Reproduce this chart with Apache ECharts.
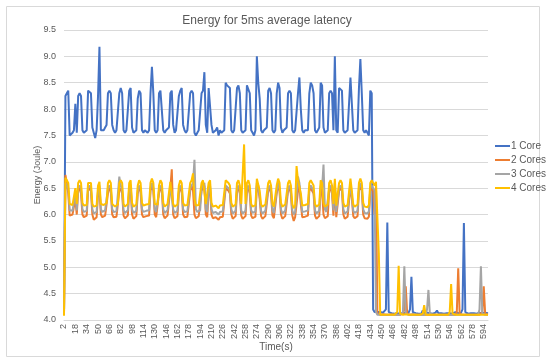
<!DOCTYPE html>
<html>
<head>
<meta charset="utf-8">
<script src="https://cdn.jsdelivr.net/npm/echarts@6/dist/echarts.min.js"></script>
<style>html,body{margin:0;padding:0;background:#fff;}#c{width:550px;height:362px;}</style>
</head>
<body>
<div id="c"></div>
<script>
// x categories: time in seconds, 2..600 every 2 s
var categories = [];
for (var t = 2; t <= 600; t += 2) categories.push(String(t));

var seriesNames = ['1 Core', '2 Cores', '3 Cores', '4 Cores'];

var core1 = [
4.1,8.25,8.3,8.35,7.5,7.5,7.55,7.6,8.1,7.55,
8.25,8.3,8.25,7.6,7.55,7.55,7.6,8.35,8.35,8.3,
7.65,7.55,7.45,7.6,8.25,9.18,7.6,7.6,7.6,7.65,
7.7,8.3,8.35,8.3,7.7,7.6,7.55,7.6,7.6,8.3,
8.4,8.3,7.6,7.55,7.6,7.6,8.35,8.4,7.65,7.55,
7.55,7.6,8.2,8.35,8.3,7.6,7.55,7.6,7.6,7.55,
7.6,8.3,8.8,8.3,7.6,7.55,7.6,8.3,8.35,8.35,
7.6,7.55,7.6,7.6,7.65,8.3,8.35,7.7,7.55,7.6,
7.6,8.25,8.35,8.4,7.7,7.6,7.55,7.6,7.6,8.3,
8.35,8.3,7.55,7.5,7.55,7.6,7.6,8.3,8.35,8.7,
7.7,7.55,8.4,8.4,7.7,7.55,7.55,7.6,7.65,7.5,
7.6,7.55,7.55,7.6,8.5,8.45,8.45,8.4,7.6,7.55,
7.6,7.6,8.4,8.45,8.3,7.6,7.55,7.55,7.6,8.45,
8.45,8.3,7.6,7.55,7.5,7.6,9.0,8.5,8.2,7.6,
7.55,7.6,7.6,7.65,8.35,8.4,8.3,7.6,7.55,7.6,
8.3,8.5,8.4,7.65,7.55,7.6,7.6,7.65,8.3,8.35,
8.3,7.6,7.55,7.6,7.6,8.3,8.6,8.0,7.6,7.55,
7.6,7.6,7.6,8.3,8.5,8.45,8.3,7.6,7.55,7.6,
7.65,8.5,8.45,7.65,7.55,7.55,7.6,8.3,8.35,8.3,
7.6,9.0,7.6,7.55,8.4,8.4,8.35,7.6,7.55,7.55,
7.6,7.6,8.6,8.1,7.6,7.55,7.55,7.6,8.4,8.95,
8.3,7.6,7.55,7.6,7.55,7.5,8.35,8.3,4.2,4.15,
4.15,4.15,4.13,4.15,4.15,4.14,4.15,4.2,5.85,4.15,
4.14,4.13,4.15,4.12,4.14,4.13,4.15,4.12,4.13,4.14,
4.12,4.13,4.12,4.14,4.2,4.82,4.15,4.12,4.13,4.14,
4.12,4.13,4.12,4.18,4.13,4.12,4.14,4.12,4.13,4.16,
4.12,4.13,4.14,4.18,4.13,4.12,4.13,4.14,4.12,4.15,
4.13,4.12,4.13,4.14,4.12,4.13,4.15,4.12,4.13,4.12,
4.14,4.2,5.84,4.15,4.13,4.12,4.14,4.13,4.16,4.13,
4.15,4.12,4.13,4.14,4.12,4.13,4.12,4.14,4.12,4.13
];

var core2 = [
4.1,6.75,6.6,6.4,5.98,5.95,6.0,5.97,6.3,6.0,
6.45,6.5,6.4,6.0,5.95,5.93,5.98,6.45,6.5,6.45,
6.0,5.9,5.88,5.95,6.4,6.5,6.0,5.95,5.96,5.98,
6.0,6.4,6.5,6.45,6.0,5.95,5.92,5.96,5.98,6.45,
6.5,6.4,5.98,5.93,5.95,5.98,6.45,6.5,6.0,5.92,
5.94,5.97,6.4,6.5,6.45,6.0,5.95,5.93,5.97,5.96,
5.98,6.45,6.55,6.45,6.0,5.95,5.97,6.4,6.5,6.45,
6.0,5.93,5.95,5.98,6.0,6.5,6.86,6.0,5.93,5.95,
5.97,6.4,6.5,6.45,6.0,5.95,5.92,5.96,5.98,6.45,
6.55,6.45,6.0,5.93,5.95,5.97,5.98,6.45,6.5,6.55,
6.0,5.95,6.45,6.5,6.0,5.93,5.92,5.95,5.97,5.9,
5.95,5.93,5.96,5.98,6.5,6.5,6.45,6.4,6.0,5.92,
5.95,5.97,6.45,6.5,6.4,5.98,5.92,5.95,5.97,6.45,
6.5,6.4,5.98,5.93,5.9,5.96,6.55,6.5,6.3,5.97,
5.92,5.95,5.97,5.98,6.45,6.5,6.4,5.98,5.93,5.95,
6.4,6.55,6.45,6.0,5.92,5.95,5.97,6.0,6.45,6.5,
6.4,5.98,5.88,5.95,5.97,6.45,6.55,6.2,5.95,5.92,
5.96,5.97,5.98,6.45,6.5,6.5,6.4,5.98,5.92,5.95,
5.97,6.5,6.45,6.0,5.93,5.95,5.97,6.45,6.5,6.4,
5.98,6.55,5.95,5.93,6.45,6.5,6.45,6.0,5.92,5.94,
5.96,5.98,6.55,6.3,5.97,5.93,5.95,5.97,6.45,6.55,
6.45,6.0,5.93,5.95,5.92,5.96,6.45,6.5,6.45,6.0,
6.55,4.12,4.1,4.1,4.1,4.11,4.1,4.1,4.1,4.1,
4.1,4.11,4.1,4.1,4.1,4.1,4.1,4.1,4.1,4.12,
4.2,4.64,4.12,4.1,4.1,4.1,4.11,4.1,4.1,4.1,
4.1,4.1,4.1,4.11,4.1,4.1,4.1,4.1,4.1,4.1,
4.1,4.11,4.1,4.1,4.1,4.1,4.1,4.1,4.1,4.11,
4.1,4.1,4.1,4.1,4.1,4.1,4.1,4.15,4.98,4.12,
4.1,4.1,4.1,4.1,4.11,4.1,4.1,4.1,4.1,4.1,
4.1,4.1,4.1,4.1,4.1,4.15,4.64,4.12,4.1,4.1
];

var core3 = [
4.15,6.6,6.55,6.5,6.08,6.05,6.07,6.1,6.4,6.08,
6.5,6.55,6.5,6.1,6.05,6.03,6.07,6.5,6.55,6.5,
6.1,6.02,6.0,6.05,6.45,6.55,6.1,6.05,6.06,6.08,
6.1,6.5,6.55,6.5,6.1,6.05,6.03,6.06,6.08,6.72,
6.55,6.45,6.08,6.03,6.05,6.08,6.5,6.55,6.1,6.03,
6.04,6.07,6.45,6.55,6.5,6.1,6.05,6.03,6.07,6.06,
6.08,6.5,6.6,6.5,6.1,6.05,6.07,6.45,6.55,6.5,
6.1,6.03,6.05,6.08,6.1,6.55,6.55,6.1,6.03,6.05,
6.07,6.45,6.55,6.5,6.1,6.05,6.02,6.06,6.08,6.5,
6.55,6.6,7.04,6.1,6.05,6.07,6.08,6.5,6.55,6.6,
6.1,6.05,6.5,6.55,6.1,6.03,6.02,6.05,6.07,6.0,
6.05,6.03,6.06,6.08,6.55,6.55,6.5,6.45,6.1,6.02,
6.05,6.07,6.5,6.55,6.45,6.08,6.02,6.05,6.07,6.5,
6.55,6.45,6.08,6.03,6.0,6.06,6.6,6.55,6.35,6.07,
6.02,6.05,6.07,6.08,6.5,6.55,6.45,6.08,6.03,6.05,
6.45,6.6,6.5,6.1,6.02,6.05,6.07,6.1,6.5,6.55,
6.45,6.08,6.0,6.05,6.07,6.72,6.6,6.3,6.05,6.02,
6.06,6.07,6.08,6.5,6.55,6.55,6.45,6.08,6.02,6.05,
6.07,6.55,6.5,6.95,6.1,6.05,6.07,6.5,6.55,6.45,
6.08,6.6,6.05,6.03,6.5,6.55,6.5,6.1,6.02,6.04,
6.06,6.08,6.6,6.35,6.07,6.03,6.05,6.07,6.5,6.6,
6.5,6.1,6.03,6.05,6.02,6.06,6.5,6.55,6.5,6.45,
4.15,4.1,4.1,4.1,4.11,4.1,4.1,4.1,4.1,4.1,
4.1,4.1,4.11,4.1,4.1,4.1,4.1,4.1,4.1,4.15,
5.02,4.12,4.1,4.1,4.1,4.1,4.1,4.11,4.1,4.1,
4.1,4.1,4.1,4.1,4.1,4.1,4.2,4.57,4.12,4.1,
4.1,4.1,4.1,4.11,4.1,4.1,4.1,4.1,4.1,4.1,
4.1,4.11,4.1,4.1,4.1,4.1,4.1,4.1,4.1,4.1,
4.1,4.1,4.1,4.11,4.1,4.1,4.1,4.1,4.1,4.1,
4.1,4.1,4.1,4.2,5.02,4.12,4.1,4.1,4.1,4.1
];

var core4 = [
4.08,6.7,6.65,6.6,6.2,6.17,6.18,6.2,6.5,6.2,
6.6,6.65,6.6,6.22,6.17,6.15,6.18,6.6,6.62,6.6,
6.2,6.15,6.12,6.17,6.55,6.62,6.2,6.17,6.18,6.2,
6.22,6.6,6.65,6.6,6.2,6.17,6.15,6.18,6.2,6.6,
6.65,6.6,6.2,6.15,6.17,6.2,6.6,6.65,6.22,6.15,
6.16,6.19,6.55,6.65,6.6,6.22,6.17,6.15,6.19,6.18,
6.2,6.6,6.68,6.6,6.2,6.17,6.19,6.55,6.65,6.6,
6.22,6.15,6.17,6.2,6.22,6.62,6.65,6.2,6.15,6.17,
6.19,6.55,6.65,6.6,6.22,6.17,6.14,6.18,6.2,6.6,
6.65,6.78,6.3,6.17,6.15,6.18,6.2,6.6,6.65,6.62,
6.2,6.17,6.6,6.65,6.22,6.15,6.14,6.17,6.19,6.12,
6.17,6.15,6.18,6.2,6.65,6.65,6.6,6.55,6.22,6.15,
6.17,6.19,6.6,6.65,6.55,6.2,6.2,7.33,6.2,6.6,
6.65,6.55,6.2,6.15,6.12,6.18,6.68,6.65,6.45,6.19,
6.15,6.17,6.19,6.2,6.6,6.65,6.55,6.2,6.15,6.17,
6.55,6.68,6.6,6.22,6.15,6.17,6.19,6.22,6.6,6.65,
6.55,6.2,6.12,6.17,6.92,6.65,6.68,6.4,6.17,6.15,
6.18,6.19,6.2,6.6,6.65,6.65,6.55,6.2,6.15,6.17,
6.19,6.65,6.6,6.22,6.15,6.17,6.19,6.6,6.65,6.55,
6.2,6.68,6.17,6.15,6.6,6.65,6.6,6.22,6.15,6.16,
6.18,6.2,6.68,6.45,6.19,6.15,6.17,6.19,6.6,6.68,
6.6,6.22,6.15,6.17,6.14,6.18,6.6,6.65,6.6,6.55,
6.62,6.6,5.27,4.1,4.1,4.1,4.11,4.1,4.1,4.1,
4.1,4.1,4.1,4.1,4.1,4.15,5.03,4.12,4.1,4.1,
4.1,4.11,4.1,4.1,4.1,4.1,4.1,4.1,4.1,4.1,
4.1,4.1,4.1,4.12,4.28,4.1,4.1,4.1,4.1,4.1,
4.1,4.1,4.11,4.1,4.1,4.1,4.1,4.1,4.1,4.1,
4.1,4.1,4.15,4.68,4.12,4.1,4.1,4.1,4.1,4.1,
4.1,4.1,4.1,4.1,4.1,4.11,4.1,4.1,4.1,4.1,
4.1,4.1,4.1,4.1,4.1,4.1,4.1,4.1,4.1,4.1
];

var colors = ['#4472C4', '#ED7D31', '#A5A5A5', '#FFC000'];
var allData = [core1, core2, core3, core4];

var chart = echarts.init(document.getElementById('c'), null, {renderer: 'canvas'});
var FONT = 'Liberation Sans';
var TXT = '#595959';

var series = seriesNames.map(function (n, k) {
  return {
    name: n, type: 'line', data: allData[k],
    showSymbol: false, symbol: 'none',
    lineStyle: {width: 2, color: colors[k]},
    itemStyle: {color: colors[k]},
    emphasis: {disabled: true}
  };
});

chart.setOption({
  animation: false,
  textStyle: {fontFamily: FONT},
  graphic: [{
    type: 'rect', shape: {x: 6.5, y: 6.5, width: 533, height: 350},
    style: {fill: 'none', stroke: '#d9d9d9', lineWidth: 1}, z: -1
  }],
  title: {
    text: 'Energy for 5ms average latency',
    left: 262, textAlign: 'center', top: 10,
    textStyle: {fontSize: 12, fontWeight: 'normal', color: TXT, fontFamily: FONT}
  },
  legend: {
    orient: 'vertical', left: 490, top: 136,
    icon: 'rect', itemWidth: 15, itemHeight: 2, itemGap: 4,
    textStyle: {fontSize: 10, color: TXT, fontFamily: FONT, padding: [0, 0, 0, -4]},
    data: seriesNames
  },
  grid: {left: 64, right: 62, top: 30, bottom: 42, containLabel: false},
  xAxis: {
    type: 'category', data: categories, boundaryGap: false,
    name: 'Time(s)', nameLocation: 'middle', nameGap: 22, nameMoveOverlap: false,
    nameTextStyle: {fontSize: 10, color: TXT, fontFamily: FONT},
    axisLine: {lineStyle: {color: '#d9d9d9'}},
    axisTick: {show: false},
    axisLabel: {interval: 7, rotate: 90, fontSize: 9, color: TXT, fontFamily: FONT, margin: 4}
  },
  yAxis: {
    type: 'value', min: 4, max: 9.5, interval: 0.5,
    name: 'Energy (Joule)', nameLocation: 'middle', nameGap: 22, nameMoveOverlap: false,
    nameTextStyle: {fontSize: 9, color: TXT, fontFamily: FONT},
    axisLine: {show: false}, axisTick: {show: false},
    axisLabel: {fontSize: 9, color: TXT, fontFamily: FONT, margin: 8,
      formatter: function (v) { return v.toFixed(1); }},
    splitLine: {lineStyle: {color: '#d9d9d9', width: 1}}
  },
  series: series
});
</script>
</body>
</html>
